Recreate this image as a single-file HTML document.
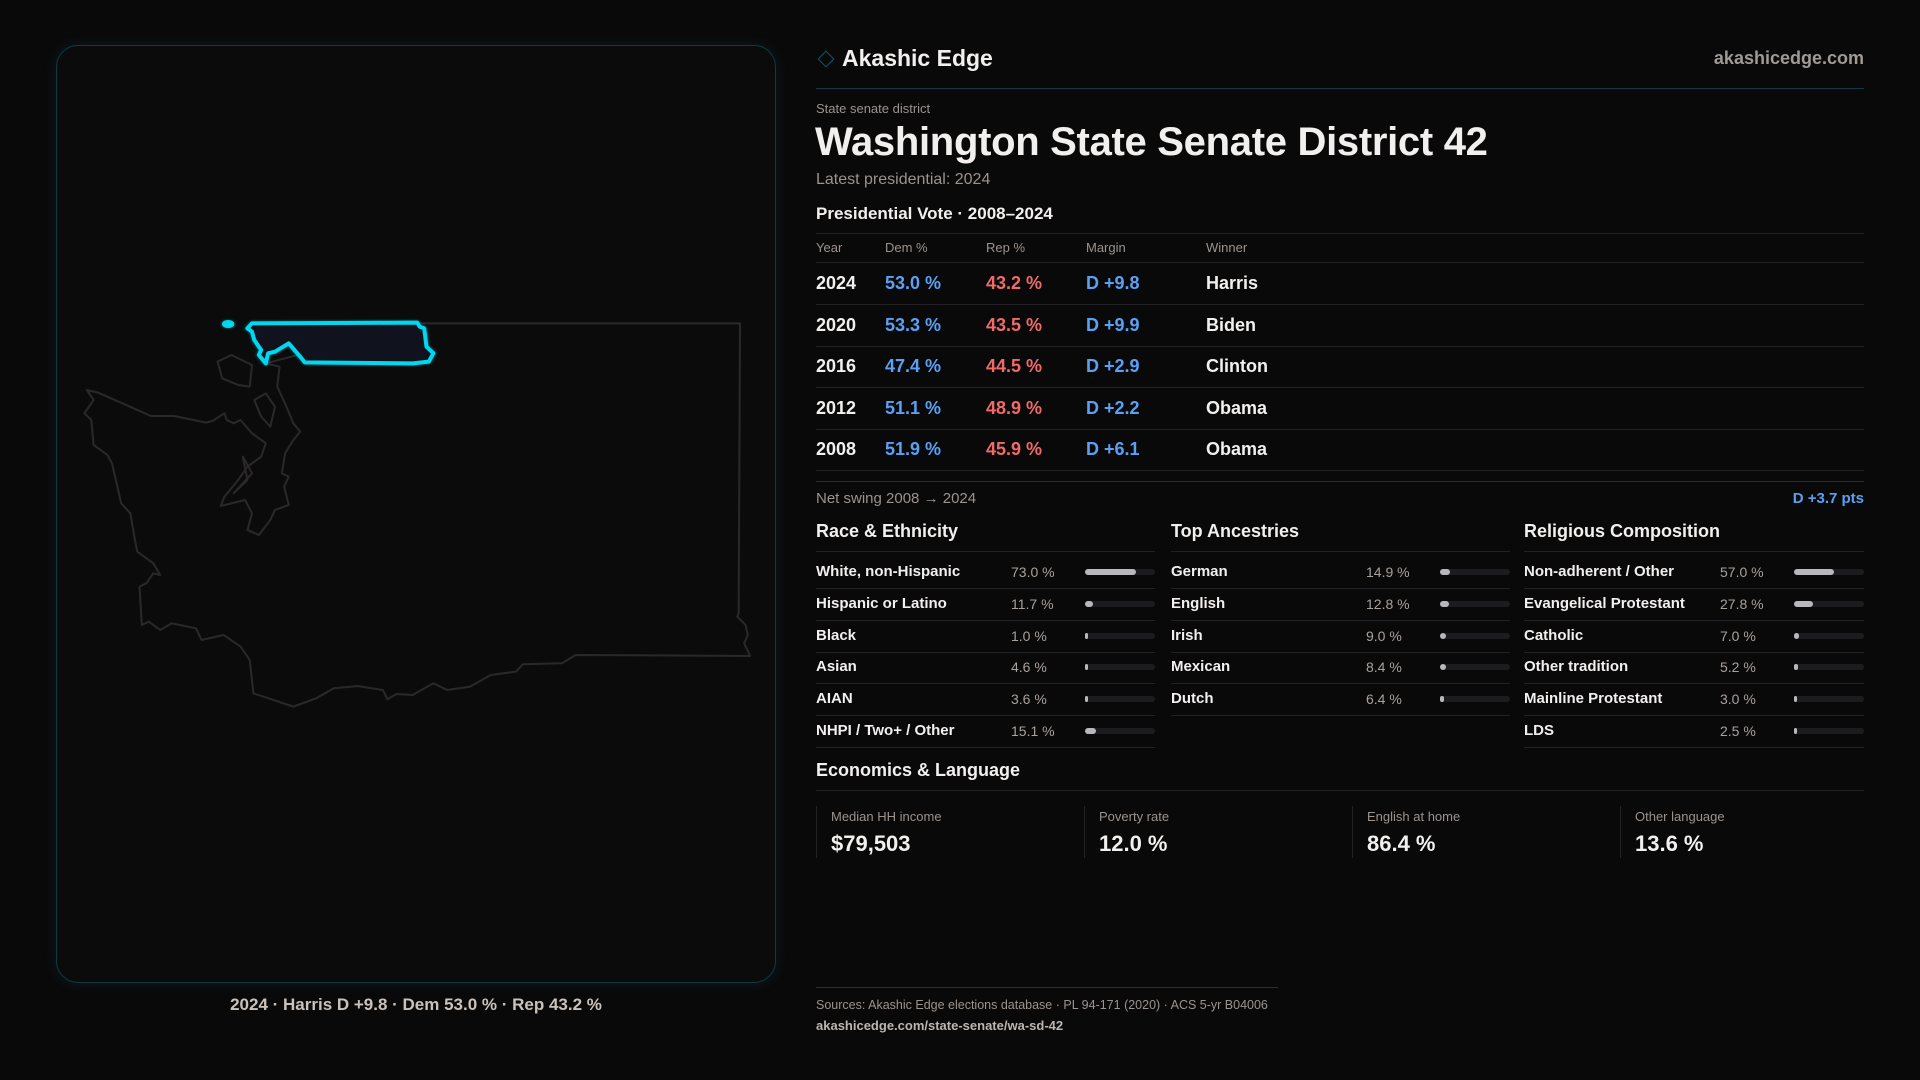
<!DOCTYPE html>
<html><head><meta charset="utf-8">
<style>
*{margin:0;padding:0;box-sizing:border-box}
body{width:1920px;height:1080px;background:#0a090a;font-family:"Liberation Sans",sans-serif;color:#f2f0ee;position:relative;overflow:hidden}
.a{position:absolute;white-space:nowrap;line-height:1}
.ln{position:absolute;height:1px;background:#222123}
.g{color:#9a938e}
</style></head><body>
<div class="a" style="left:56px;top:45px;width:720px;height:938px;border:1px solid #0f3a44;border-radius:22px;background:#0c0b0c;box-shadow:0 0 14px rgba(0,160,190,0.12)"></div>
<svg class="a" style="left:0;top:0" width="800" height="1000">
<g transform="translate(50,300) scale(0.4591,0.3333)" fill="none" stroke="#2b2829" stroke-width="2" stroke-linejoin="round">
<polygon vector-effect="non-scaling-stroke" points="805,70 1503,70 1500,940 1497,950 1515,975 1520,1005 1512,1030 1525,1068 1145,1065 1115,1090 1030,1093 1015,1115 960,1125 915,1160 865,1170 835,1150 790,1185 755,1182 735,1198 725,1170 700,1165 670,1158 618,1165 580,1195 530,1220 443,1180 435,1080 415,1040 378,1005 330,1020 318,985 265,970 240,990 215,965 200,975 195,860 210,850 225,820 240,825 225,790 190,755 185,720 175,640 155,610 135,490 125,465 95,435 90,360 75,340 95,300 80,270 105,278 220,348 270,348 340,368 355,362 380,340 385,360 400,370 415,360 440,400 470,430 460,470 430,500 410,540 380,590 372,618 425,600 440,640 430,690 455,705 480,660 490,630 520,615 510,560 520,530 505,520 512,460 530,420 545,395 530,370 515,320 495,260 500,200 470,190"/>
<polygon vector-effect="non-scaling-stroke" points="365,185 395,165 440,195 435,260 410,255 375,235"/>
<polygon vector-effect="non-scaling-stroke" points="445,300 470,280 490,320 480,380 460,350"/>
<polygon vector-effect="non-scaling-stroke" points="420,470 440,520 400,580 430,540"/>
<g stroke="#00d8f0" stroke-width="4" fill="#10131d" style="filter:drop-shadow(0 0 4px rgba(0,200,230,0.6))">
<polygon vector-effect="non-scaling-stroke" points="440,70 800,68 805,80 815,85 820,140 835,160 825,185 790,190 555,187 545,170 520,130 490,155 475,160 470,190 455,165 460,150 445,120 440,95 430,85"/>
<ellipse vector-effect="non-scaling-stroke" cx="388" cy="72" rx="9" ry="6"/>
</g></g></svg>
<div class="a" style="left:56px;width:720px;text-align:center;top:996px;font-size:17px;font-weight:bold;color:#c9c2bc">2024 · Harris D +9.8 · Dem 53.0 % · Rep 43.2 %</div>

<div class="a" style="left:820px;top:53px;width:12px;height:12px;border:1.5px solid #0e5a66;transform:rotate(45deg)"></div>
<div class="a" style="left:842px;top:47px;font-size:23px;font-weight:bold">Akashic Edge</div>
<div class="a g" style="right:56px;top:49px;font-size:18px;font-weight:bold;color:#a09a95">akashicedge.com</div>
<div class="ln" style="left:816px;width:1048px;top:88px;background:#0f3a44"></div>
<div class="a g" style="left:816px;top:102px;font-size:13px">State senate district</div>
<div class="a" style="left:815px;top:122px;font-size:40px;font-weight:bold;letter-spacing:-0.3px">Washington State Senate District 42</div>
<div class="a g" style="left:816px;top:172px;font-size:16px">Latest presidential: 2024</div>
<div class="a" style="left:816px;top:205px;font-size:17px;font-weight:bold">Presidential Vote · 2008–2024</div>
<div class="ln" style="left:816px;width:1048px;top:233px"></div>
<div id="pres"></div>
<div class="ln" style="left:816px;width:1048px;top:481px;background:#2a292b"></div>
<div class="a g" style="left:816px;top:491px;font-size:15px">Net swing 2008 → 2024</div>
<div class="a" style="right:56px;top:491px;font-size:15px;font-weight:bold;color:#5aa0f5">D +3.7 pts</div>
<div id="demo"></div>
<div class="a" style="left:816px;top:761px;font-size:18px;font-weight:bold">Economics &amp; Language</div>
<div class="ln" style="left:816px;width:1048px;top:790px"></div>
<div id="econ"></div>
<div class="ln" style="left:816px;width:462px;top:987px;background:#0f3a44"></div>
<div class="a g" style="left:816px;top:999px;font-size:12.5px">Sources: Akashic Edge elections database · PL 94-171 (2020) · ACS 5-yr B04006</div>
<div class="a" style="left:816px;top:1019px;font-size:13px;font-weight:bold;color:#bdb6b0">akashicedge.com/state-senate/wa-sd-42</div>
<script>
const years=["2024","2020","2016","2012","2008"];
const dem=[53.0,53.3,47.4,51.1,51.9];
const rep=[43.2,43.5,44.5,48.9,45.9];
const margins=[9.8,9.9,2.9,2.2,6.1];
const winners=["Harris","Biden","Clinton","Obama","Obama"];
const raceLabels=["White, non-Hispanic","Hispanic or Latino","Black","Asian","AIAN","NHPI / Two+ / Other"];
const raceValues=[73.0,11.7,1.0,4.6,3.6,15.1];
const ancLabels=["German","English","Irish","Mexican","Dutch"];
const ancValues=[14.9,12.8,9.0,8.4,6.4];
const relLabels=["Non-adherent / Other","Evangelical Protestant","Catholic","Other tradition","Mainline Protestant","LDS"];
const relValues=[57.0,27.8,7.0,5.2,3.0,2.5];
const econLabels=["Median HH income","Poverty rate","English at home","Other language"];
const econValues=["$79,503","12.0 %","86.4 %","13.6 %"];

function mk(parent,cls,style,text){const d=document.createElement('div');d.className=cls;d.style.cssText=style;if(text!==undefined)d.textContent=text;parent.appendChild(d);return d;}
const pres=document.getElementById('pres');
const cols=[816,885,986,1086,1206];
["Year","Dem %","Rep %","Margin","Winner"].forEach((h,i)=>{
 const e=mk(pres,'a g',`left:${cols[i]}px;top:241px;font-size:13px`,h);
 
 
});
mk(pres,'ln','left:816px;width:1048px;top:262px');
years.forEach((y,i)=>{
 const c=283+i*41.5;
 const m=margins[i];
 const vals=[y,dem[i].toFixed(1)+' %',rep[i].toFixed(1)+' %',(m>=0?'D +':'R +')+Math.abs(m).toFixed(1),winners[i]];
 const colors=['#f2f0ee','#5aa0f5','#f06a6a',m>=0?'#5aa0f5':'#f06a6a','#f2f0ee'];
 vals.forEach((v,j)=>{
  const e=mk(pres,'a',`left:${cols[j]}px;top:${c-9}px;font-size:18px;font-weight:bold;color:${colors[j]}`,v);
  
  
 });
 mk(pres,'ln',`left:816px;width:1048px;top:${Math.round(c+21)}px`);
});
const demo=document.getElementById('demo');
function section(title,x,labels,values,valX,barX){
 const h=mk(demo,'a',`left:${x}px;top:522px;font-size:18px;font-weight:bold`,title);
 
 
 const w=barX+70-x;
 mk(demo,'ln',`left:${x}px;width:${w}px;top:551px`);
 labels.forEach((l,i)=>{
  const c=572+i*31.8;
  const lab=mk(demo,'a',`left:${x}px;top:${c-8}px;font-size:15px;font-weight:bold`,l);
  
  
  const v=mk(demo,'a',`left:${valX}px;top:${c-7}px;font-size:14px;color:#a8a19c`,values[i].toFixed(1)+' %');
  
  
  const t=mk(demo,'a',`left:${barX}px;top:${c-3}px;width:70px;height:6px;border-radius:3px;background:#1c1c1e`);
  
  
  const f=mk(t,'a',`left:0;top:0;height:6px;border-radius:3px;background:#b8b8bc;width:${Math.max(2.5,values[i]/100*70)}px`);
  
  
  mk(demo,'ln',`left:${x}px;width:${w}px;top:${Math.round(c+16)}px`);
 });
}
section("Race & Ethnicity",816,raceLabels,raceValues,1011,1085);
section("Top Ancestries",1171,ancLabels,ancValues,1366,1440);
section("Religious Composition",1524,relLabels,relValues,1720,1794);
const econ=document.getElementById('econ');
econLabels.forEach((l,i)=>{
 const x=816+i*268;
 mk(econ,'a',`left:${x}px;top:806px;width:1px;height:52px;background:#222123`);
 const a=mk(econ,'a g',`left:${x+15}px;top:810px;font-size:13px`,l);
 
 
 const b=mk(econ,'a',`left:${x+15}px;top:833px;font-size:22px;font-weight:bold`,econValues[i]);
 
 
});
</script>
</body></html>
